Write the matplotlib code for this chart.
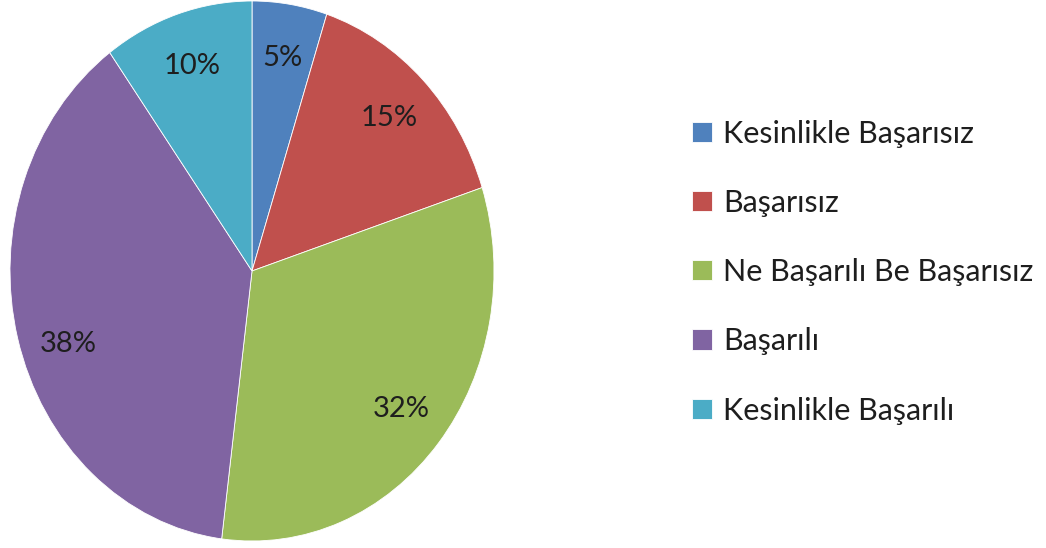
import matplotlib
matplotlib.use('Agg')
import matplotlib.pyplot as plt

labels = ['Kesinlikle Başarısız', 'Başarısız', 'Ne Başarılı Be Başarısız', 'Başarılı', 'Kesinlikle Başarılı']
values = [5, 15, 32, 38, 10]
colors = ['#4F81BD', '#C0504D', '#9BBB59', '#8064A2', '#4BACC6']

plt.rcParams['font.family'] = ['Lato', 'DejaVu Sans']

W, H = 1046, 548
fig = plt.figure(figsize=(W / 100, H / 100), dpi=100)
# pie area in pixels: x 10..494, y 1..541 (from top)
ax = fig.add_axes([10 / W, 1 - 541 / H, 484 / W, 540 / H])

wedges, texts, autotexts = ax.pie(values, colors=colors, startangle=90, counterclock=False,
                                  autopct='%1.0f%%', pctdistance=0.8,
                                  wedgeprops=dict(edgecolor='white', linewidth=0.6),
                                  textprops=dict(fontsize=21, color='#1e1e1e'))
ax.set_aspect('auto')
ax.set_xlim(-1, 1)
ax.set_ylim(-1, 1)
# excel puts the 38% label a bit lower
autotexts[3].set_position((-0.76, -0.27))

fig.legend(wedges, labels, loc='center left', bbox_to_anchor=(692 / W, 1 - 272 / H),
           frameon=False, fontsize=22, labelspacing=1.35, handlelength=0.65, handleheight=0.65,
           handletextpad=0.36, borderpad=0, borderaxespad=0, labelcolor='#1e1e1e')

fig.savefig('out.png', dpi=100)
